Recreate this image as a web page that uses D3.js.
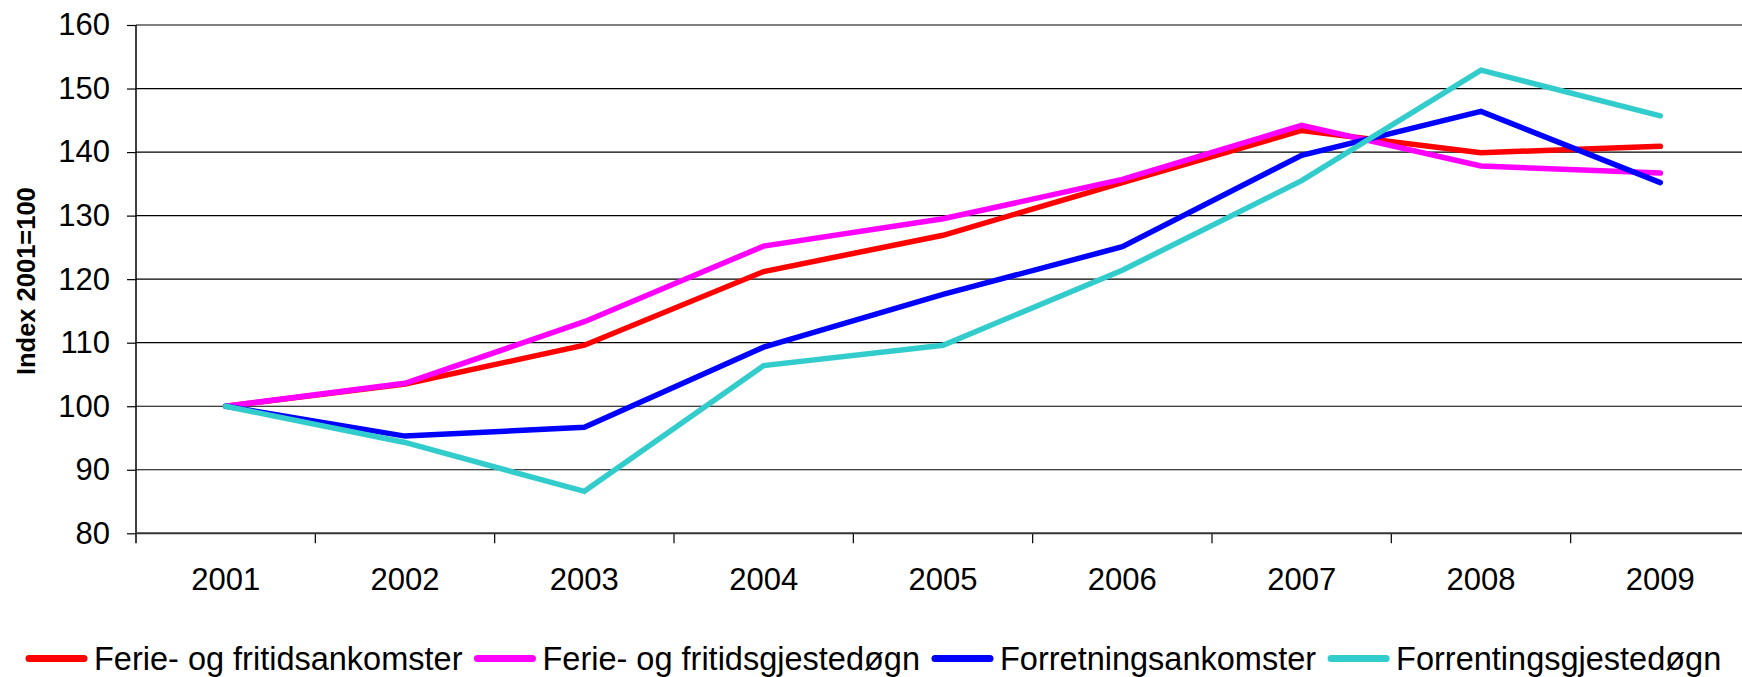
<!DOCTYPE html>
<html>
<head>
<meta charset="utf-8">
<script src="https://cdn.jsdelivr.net/npm/d3@7"></script>
<style>
  html, body { margin: 0; padding: 0; background: #fff; overflow: hidden; }
  svg { display: block; font-family: "Liberation Sans", Arial, sans-serif; }
</style>
</head>
<body>
<svg id="chart" width="1742" height="677"></svg>
<script>
const years = ["2001","2002","2003","2004","2005","2006","2007","2008","2009"];
const seriesNames = ["Ferie- og fritidsankomster","Ferie- og fritidsgjestedøgn","Forretningsankomster","Forrentingsgjestedøgn"];
const seriesColors = ["#FF0000","#FF00FF","#0000FF","#33CCCC"];
const ferieAnkomster   = [100, 103.5, 109.6, 121.2, 126.9, 135.2, 143.4, 139.9, 140.9];
const ferieGjestedogn  = [100, 103.6, 113.3, 125.2, 129.5, 135.7, 144.2, 137.8, 136.7];
const forrAnkomster    = [100,  95.3,  96.7, 109.3, 117.6, 125.1, 139.5, 146.4, 135.2];
const forrGjestedogn   = [100,  94.3,  86.6, 106.4, 109.6, 121.4, 135.5, 152.9, 145.7];
const yTicks = [80, 90, 100, 110, 120, 130, 140, 150, 160];
const yTitle = "Index 2001=100";

const seriesValues = [ferieAnkomster, ferieGjestedogn, forrAnkomster, forrGjestedogn];

(function () {
const svg = d3.select("#chart");
const mLeft = 136, mRight = 1750, mTop = 25, mBottom = 533.3;

const x = d3.scaleBand().domain(years).range([mLeft, mRight]).padding(0);
const y = d3.scaleLinear().domain([80, 160]).range([mBottom, mTop]);

// gridlines
svg.append("g").selectAll("line").data(yTicks.filter(d => d !== 80 && d !== 160)).join("line")
  .attr("x1", mLeft).attr("x2", mRight)
  .attr("y1", d => y(d)).attr("y2", d => y(d))
  .attr("stroke", "#000").attr("stroke-width", 1.2);
// top border
svg.append("line").attr("x1", mLeft).attr("x2", mRight)
  .attr("y1", y(160)).attr("y2", y(160))
  .attr("stroke", "#808080").attr("stroke-width", 2);

// y axis
const yAxis = svg.append("g").attr("transform", `translate(${mLeft},0)`)
  .call(d3.axisLeft(y).tickValues(yTicks).tickSize(9).tickPadding(17));
yAxis.select(".domain").remove();
yAxis.selectAll(".tick line").attr("stroke", "#000").attr("stroke-width", 1.2);
yAxis.selectAll("text").attr("font-size", 31).attr("fill", "#000")
  .attr("font-family", "Liberation Sans, Arial, sans-serif");
svg.append("line").attr("x1", mLeft).attr("x2", mLeft).attr("y1", mTop).attr("y2", mBottom + 10)
  .attr("stroke", "#000").attr("stroke-width", 1.5);

// x axis
const xAxis = svg.append("g").attr("transform", `translate(0,${mBottom})`)
  .call(d3.axisBottom(x).tickSize(0).tickPadding(35));
xAxis.select(".domain").remove();
xAxis.selectAll("text").attr("font-size", 31).attr("fill", "#000")
  .attr("font-family", "Liberation Sans, Arial, sans-serif");
// boundary ticks
svg.append("g").selectAll("line").data(years.slice(1).map(d => x(d))).join("line")
  .attr("x1", d => d).attr("x2", d => d)
  .attr("y1", mBottom).attr("y2", mBottom + 10)
  .attr("stroke", "#000").attr("stroke-width", 1.2);
svg.append("line").attr("x1", mLeft).attr("x2", mRight)
  .attr("y1", mBottom).attr("y2", mBottom)
  .attr("stroke", "#333").attr("stroke-width", 2);

// y title
svg.append("text")
  .attr("transform", `translate(35,${(mTop + mBottom) / 2 + 2}) rotate(-90)`)
  .attr("text-anchor", "middle")
  .attr("font-size", 25.5).attr("font-weight", "bold").attr("fill", "#000")
  .text(yTitle);

// lines
const line = d3.line()
  .x((d, i) => x(years[i]) + x.bandwidth() / 2)
  .y(d => y(d));
seriesValues.forEach((vals, k) => {
  svg.append("path").datum(vals)
    .attr("d", line)
    .attr("fill", "none")
    .attr("stroke", seriesColors[k])
    .attr("stroke-width", 5.5)
    .attr("stroke-linejoin", "miter")
    .attr("stroke-linecap", "round");
});

// legend
const legend = svg.append("g");
let cx = 26;
const ly = 658.5;
seriesNames.forEach((name, k) => {
  legend.append("line")
    .attr("x1", cx + 3).attr("x2", cx + 58)
    .attr("y1", ly).attr("y2", ly)
    .attr("stroke", seriesColors[k]).attr("stroke-width", 7)
    .attr("stroke-linecap", "round");
  const t = legend.append("text")
    .attr("x", cx + 68).attr("y", 670)
    .attr("font-size", 32.5).attr("fill", "#000")
    .text(name);
  const w = t.node().getComputedTextLength();
  cx = cx + 68 + w + 12;
});
})();
</script>
</body>
</html>
